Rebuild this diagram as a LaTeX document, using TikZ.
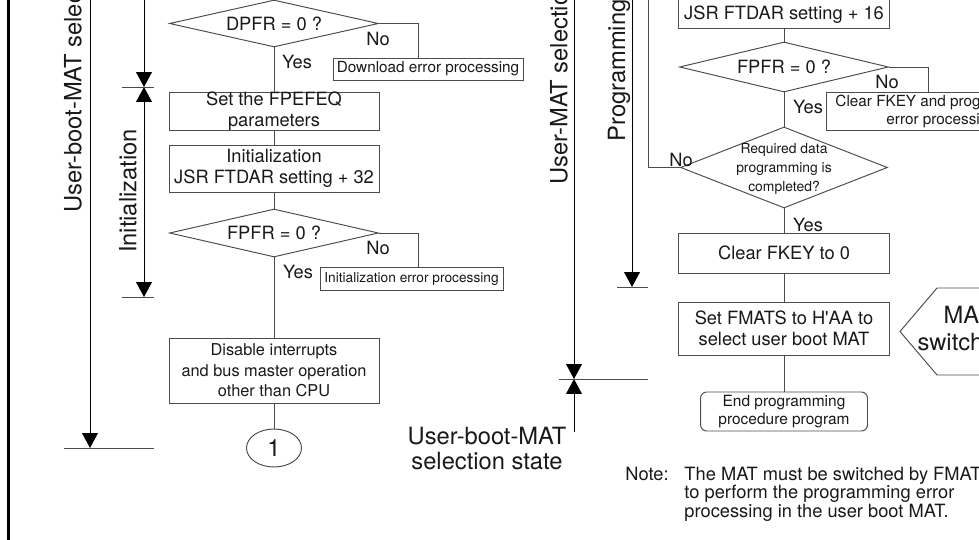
\documentclass[tikz,border=0pt]{standalone}
\usepackage{fontspec}
\setmainfont{TeX Gyre Heros}
\usepackage{tikz}
\usetikzlibrary{arrows.meta}
\usetikzlibrary{shapes.geometric}

\begin{document}
\begin{tikzpicture}[x=0.02cm,y=-0.02cm,line width=0.55pt,
		box/.style={draw=black!70,rectangle,inner sep=0pt,align=center,
			text=black!90,font=\fontsize{10.4}{11.6}\selectfont},
		dia/.style={draw=black!70,diamond,inner sep=0pt,shape aspect=4,
			text=black!90,font=\fontsize{10.4}{11.6}\selectfont},
		errbox/.style={draw=black!70,rectangle,inner sep=1.2pt,
			text=black!90,font=\fontsize{8.7}{9.4}\selectfont},
		small/.style={inner sep=0pt,text=black!90,font=\fontsize{8.7}{9.4}\selectfont},
		lbl/.style={inner sep=0pt,text=black!90,font=\fontsize{10.4}{11.6}\selectfont},
		big/.style={inner sep=0pt,text=black!90,font=\fontsize{13.5}{14.2}\selectfont},
		flow/.style={draw=black!70},
		brk/.style={black,-{Triangle[length=8.5pt,width=9pt]}},
		brkboth/.style={black,{Triangle[length=8.5pt,width=9pt]}-{Triangle[length=8.5pt,width=9pt]}},
		brkstart/.style={black,{Triangle[length=8.5pt,width=9pt]}-}]
		
		\useasboundingbox (0,0) rectangle (979,540);
		\clip (0,0) rectangle (979,540);
		
		% Left frame edge
		\draw[line width=1.5pt] (8.7,0) -- (8.7,540);
		
		% Left column: download check and initialization
		\node[dia,minimum width=4.18cm,minimum height=0.94cm] (dpfr) at (274,23.5) {DPFR = 0 ?};
		\node[errbox,minimum width=3.8cm,minimum height=0.44cm] (dlerr) at (428,69) {Download error processing};
		\node[box,minimum width=4.2cm,minimum height=0.76cm] (fpefeq) at (274,111) {Set the FPEFEQ\\parameters};
		\node[box,minimum width=4.2cm,minimum height=0.94cm] (init) at (274,168.5) {Initialization\\JSR FTDAR setting + 32};
		\node[dia,minimum width=4.18cm,minimum height=0.96cm] (fpfr1) at (274,233) {FPFR = 0 ?};
		\node[errbox,font=\fontsize{7.8}{9}\selectfont,minimum width=3.66cm,minimum height=0.46cm] (initerr) at (411.5,278.5) {Initialization error processing};
		\node[box,minimum width=4.2cm,minimum height=1.3cm,font=\fontsize{9.3}{11.7}\selectfont] (disable) at (274,370.5) {Disable interrupts\\and bus master operation\\other than CPU};
		\node[draw=black!70,ellipse,minimum width=1.1cm,minimum height=0.76cm,inner sep=0pt,big] (conn) at (274,448) {1};
		
		\coordinate (dlno) at (418,58);
		\coordinate (initno) at (418,267);
		\draw[flow] (dpfr.east) -| (dlno);
		\draw[flow] (dpfr.south) -- (fpefeq.north);
		\draw[flow] (fpefeq.south) -- (init.north);
		\draw[flow] (init.south) -- (fpfr1.north);
		\draw[flow] (fpfr1.east) -| (initno);
		\draw[flow] (fpfr1.south) -- (disable.north);
		\draw[flow] (disable.south) -- (conn.north);
		\node[lbl] (yes1) at (297,62) {Yes};
		\node[lbl] (no1) at (378,39) {No};
		\node[lbl] (yes2) at (298,271.5) {Yes};
		\node[lbl] (no2) at (378,248) {No};
		
		% Section brackets on the left
		\coordinate (ub1) at (90,-20);
		\coordinate (ub2) at (90,448);
		\coordinate (dl1) at (144,-20);
		\coordinate (in1) at (144,87);
		\coordinate (in2) at (144,297);
		\draw[brk] (ub1) -- (ub2);
		\draw[brk] (dl1) -- (in1);
		\draw[brkboth] (in1) -- (in2);
		\foreach \y/\a in {448/64, 87/122, 297/122}
			\draw[flow] (\a,\y) -- (154,\y);
		\node[big,rotate=90,anchor=west] (ubsel) at (73,213) {User-boot-MAT selec};
		\node[big,rotate=90] (initlbl) at (128,191) {Initialization};
		
		% Section brackets in the middle
		\coordinate (um1) at (574,-20);
		\coordinate (um2) at (574,379);
		\coordinate (bs2) at (574,432);
		\coordinate (pg1) at (632,-20);
		\coordinate (pg2) at (632,287);
		\draw[brk] (um1) -- (um2);
		\draw[brkstart] (um2) -- (bs2);
		\draw[brk] (pg1) -- (pg2);
		\foreach \y/\a in {379/559, 287/617}
			\draw[flow] (\a,\y) -- (648,\y);
		\node[big,rotate=90,anchor=west] (umsel) at (559,185) {User-MAT selectio};
		\node[big,rotate=90,anchor=west] (proglbl) at (619,142) {Programming};
		\node[big,align=center] (bssel) at (487,449) {User-boot-MAT\\selection state};
		
		% Right column: programming loop
		\node[box,minimum width=4.22cm,minimum height=0.94cm] (prog) at (784,5) {};
		\node[lbl,anchor=base] (progtxt) at (784,20) {JSR FTDAR setting + 16};
		\node[dia,minimum width=4.18cm,minimum height=1cm] (fpfr2) at (784,67) {FPFR = 0 ?};
		\node[errbox,minimum width=4.48cm,minimum height=0.76cm] (clrerr) at (938,111) {};
		\node[small,anchor=base west] (clrtxt1) at (835,107) {Clear FKEY and prog};
		\node[small,anchor=base west] (clrtxt2) at (886,125) {error processi};
		\node[dia,minimum width=4.14cm,minimum height=1.62cm] (reqd) at (784,167.5) {};
		\node[lbl,align=center,font=\fontsize{7.9}{10.8}\selectfont] (reqdtxt) at (784,169) {Required data\\programming is\\completed?};
		\node[box,minimum width=4.22cm,minimum height=0.8cm] (clrkey) at (784,253) {Clear FKEY to 0};
		\node[box,minimum width=4.22cm,minimum height=1.06cm] (setfmats) at (784,328.5) {Set FMATS to H\textquotesingle AA to\\select user boot MAT};
		\node[box,rounded corners=3.5pt,minimum width=3.34cm,minimum height=0.78cm,font=\fontsize{8.8}{10.2}\selectfont] (endprog) at (784,411.5) {End programming\\procedure program};
		
		\coordinate (clrno) at (928,92);
		\coordinate (looptop) at (648,-20);
		\draw[flow] (prog.south) -- (fpfr2.north);
		\draw[flow] (fpfr2.east) -| (clrno);
		\draw[flow] (fpfr2.south) -- (reqd.north);
		\draw[flow] (reqd.west) -| (looptop);
		\draw[flow] (reqd.south) -- (clrkey.north);
		\draw[flow] (clrkey.south) -- (setfmats.north);
		\draw[flow] (setfmats.south) -- (endprog.north);
		\node[lbl] (yes3) at (808,107) {Yes};
		\node[lbl] (no3) at (887,82) {No};
		\node[lbl] (no4) at (681,160) {No};
		\node[lbl] (yes4) at (808,225) {Yes};
		
		% MAT switching shape, open to the right
		\coordinate (msw1) at (1000,288);
		\coordinate (msw2) at (937,288);
		\coordinate (msw3) at (900,331.5);
		\coordinate (msw4) at (937,375);
		\coordinate (msw5) at (1000,375);
		\draw[flow] (msw1) -- (msw2) -- (msw3) -- (msw4) -- (msw5);
		\node[big,anchor=base west] (mswtxt1) at (943,323) {MA};
		\node[big,anchor=base west] (mswtxt2) at (917,350) {switch};
		
		% Note
		\node[lbl,anchor=base west] (note) at (625,480) {Note:};
		\foreach \i/\y/\t in {1/480/The MAT must be switched by FMAT,
			2/498.5/to perform the programming error,
			3/517/processing in the user boot MAT.}
			\node[lbl,anchor=base west] (note\i) at (684,\y) {\t};
	\end{tikzpicture}
\end{document}
